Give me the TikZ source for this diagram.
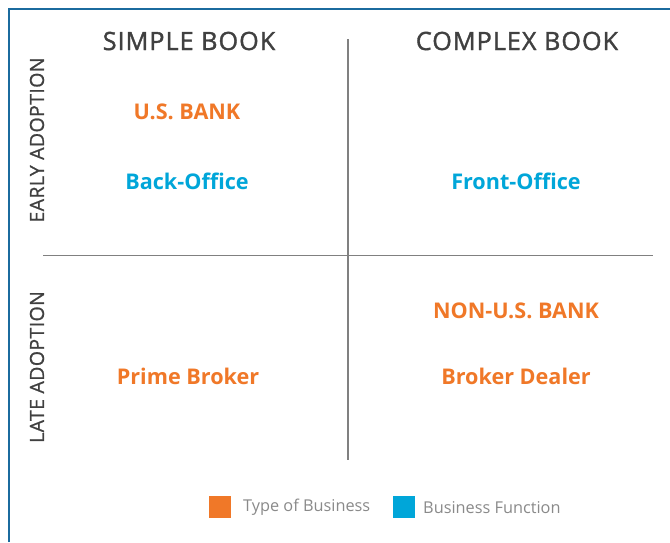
\documentclass[tikz,border=0pt]{standalone}
\usepackage{fontspec}
\setmainfont{Open Sans}
\newfontfamily\titlefont[LetterSpace=4,FakeBold=1.4]{Open Sans}
\newfontfamily\axisfont[LetterSpace=2,FakeBold=0.8]{Open Sans}
\definecolor{borderblue}{HTML}{1B6B9E}
\definecolor{darktext}{HTML}{404040}
\definecolor{orangeb}{HTML}{F07828}
\definecolor{blueb}{HTML}{00A6D9}
\definecolor{linegray}{HTML}{808080}
\definecolor{legendgray}{HTML}{8A8A8A}
\tikzset{
  title/.style={font=\titlefont\fontsize{25.2}{30}\selectfont, text=darktext, inner sep=0pt},
  axislabel/.style={font=\axisfont\fontsize{19.5}{23}\selectfont, text=darktext, rotate=90, inner sep=0pt},
  biz/.style={font=\fontsize{21.6}{25}\selectfont\bfseries, text=orangeb, inner sep=0pt},
  func/.style={font=\fontsize{21.6}{25}\selectfont\bfseries, text=blueb, inner sep=0pt},
  legtext/.style={font=\fontsize{16.3}{20}\selectfont, text=legendgray, inner sep=0pt, anchor=west},
  grid line/.style={draw=linegray, line width=1.6pt},
}
\begin{document}
\begin{tikzpicture}[x=1pt,y=-1pt]
\useasboundingbox (0,0) rectangle (670,542);
\fill[white] (0,0) rectangle (670,542);
\draw[borderblue, line width=2.5pt] (9,542) -- (9,9) -- (670,9);
\draw[grid line] (348,39) -- (348,460);
\draw[grid line] (43,255.5) -- (653,255.5);
\node[title] (simple) at (189,41) {SIMPLE BOOK};
\node[title] (complex) at (517,41) {COMPLEX BOOK};
\node[axislabel] (early) at (37,140) {EARLY ADOPTION};
\node[axislabel] (late) at (37,367) {LATE ADOPTION};
\node[biz] (usbank) at (187,112) {U.S. BANK};
\node[func] (back) at (187,181) {Back-Office};
\node[func] (front) at (516,181) {Front-Office};
\node[biz] (nonus) at (516,311) {NON-U.S. BANK};
\node[biz] (prime) at (188,376) {Prime Broker};
\node[biz] (dealer) at (516,376) {Broker Dealer};
\fill[orangeb] (209,496) rectangle (231,518);
\node[legtext] (type) at (243,507.5) {Type of Business};
\fill[blueb] (393,496) rectangle (415,518);
\node[legtext] (function) at (423,507.5) {Business Function};
\end{tikzpicture}
\end{document}
